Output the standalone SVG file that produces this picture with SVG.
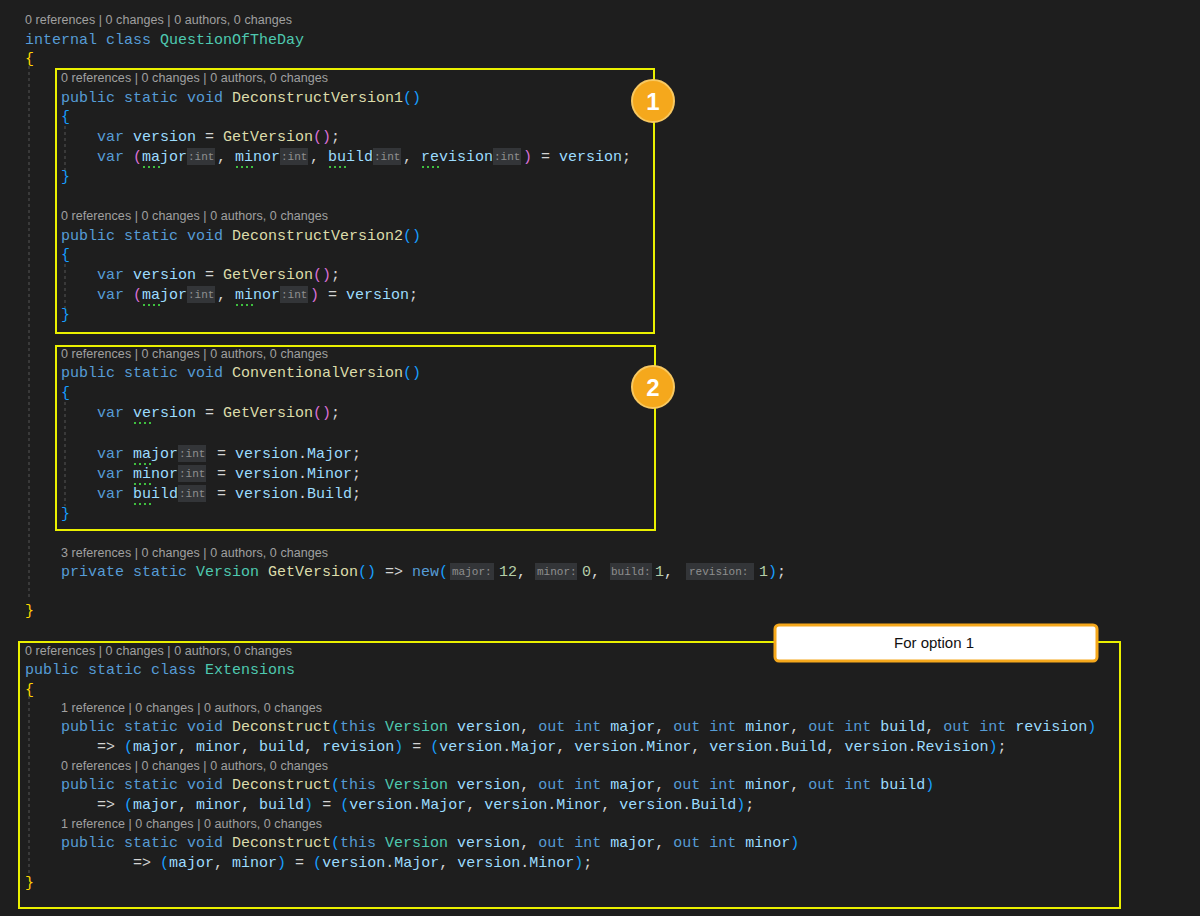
<svg xmlns="http://www.w3.org/2000/svg" width="1200" height="916" viewBox="0 0 1200 916">
<style>
text{font-family:"Liberation Mono","DejaVu Sans Mono",monospace;font-size:15px;fill:#d4d4d4;white-space:pre}
.lens{font-family:"Liberation Sans",Arial,sans-serif;font-size:12.5px;fill:#a0a0a0}
.k{fill:#569cd6}.m{fill:#dcdcaa}.c{fill:#4ec9b0}.v{fill:#9cdcfe}.n{fill:#b5cea8}
.y{fill:#ffd700}.p{fill:#da70d6}.b{fill:#179fff}
.hb{fill:#333538}.ht{font-size:11px;fill:#8f8f8f}
.dot{stroke:#3fbf3f;stroke-width:2;stroke-dasharray:2 3}
.guide{stroke:#555;stroke-width:1;stroke-dasharray:3 3}
.box{fill:none;stroke:#eaf000;stroke-width:2}
</style>
<rect width="1200" height="916" fill="#1e1e1e"/>
<g id="guides">
<line class="guide" x1="29" y1="66" x2="29" y2="600"/>
<line class="guide" x1="65" y1="126" x2="65" y2="170"/>
<line class="guide" x1="65" y1="264" x2="65" y2="308"/>
<line class="guide" x1="65" y1="402" x2="65" y2="506"/>
<line class="guide" x1="29" y1="696" x2="29" y2="876"/>
</g>
<g id="class1">
<text class="lens" x="25" y="24" textLength="267">0 references | 0 changes | 0 authors, 0 changes</text>
<text x="25" y="44"><tspan class="k">internal class </tspan><tspan class="c">QuestionOfTheDay</tspan></text>
<text x="25" y="63" class="y">{</text>
<text x="25" y="615" class="y">}</text>
</g>
<g id="method1">
<text class="lens" x="61" y="82" textLength="267">0 references | 0 changes | 0 authors, 0 changes</text>
<text x="61" y="102"><tspan class="k">public static void </tspan><tspan class="m">DeconstructVersion1</tspan><tspan class="b">()</tspan></text>
<text x="61" y="121" class="b">{</text>
<text x="97" y="141"><tspan class="k">var </tspan><tspan class="v">version</tspan> = <tspan class="m">GetVersion</tspan><tspan class="p">()</tspan>;</text>
<text x="97" y="161" class="k">var</text><text x="133" y="161" class="p">(</text>
<text x="142" y="161" class="v">major</text><rect class="hb" x="187" y="148" width="28" height="17"/><text class="ht" x="188" y="160">:int</text><text x="217" y="161">,</text>
<text x="235" y="161" class="v">minor</text><rect class="hb" x="280" y="148" width="28" height="17"/><text class="ht" x="281" y="160">:int</text><text x="310" y="161">,</text>
<text x="328" y="161" class="v">build</text><rect class="hb" x="373" y="148" width="28" height="17"/><text class="ht" x="374" y="160">:int</text><text x="403" y="161">,</text>
<text x="421" y="161" class="v">revision</text><rect class="hb" x="493" y="148" width="28" height="17"/><text class="ht" x="494" y="160">:int</text>
<text x="523" y="161"><tspan class="p">)</tspan> = <tspan class="v">version</tspan>;</text>
<line class="dot" x1="143" y1="167" x2="163" y2="167"/><line class="dot" x1="236" y1="167" x2="256" y2="167"/><line class="dot" x1="329" y1="167" x2="349" y2="167"/><line class="dot" x1="422" y1="167" x2="442" y2="167"/>
<text x="61" y="181" class="b">}</text>
</g>
<g id="method2">
<text class="lens" x="61" y="220" textLength="267">0 references | 0 changes | 0 authors, 0 changes</text>
<text x="61" y="240"><tspan class="k">public static void </tspan><tspan class="m">DeconstructVersion2</tspan><tspan class="b">()</tspan></text>
<text x="61" y="259" class="b">{</text>
<text x="97" y="279"><tspan class="k">var </tspan><tspan class="v">version</tspan> = <tspan class="m">GetVersion</tspan><tspan class="p">()</tspan>;</text>
<text x="97" y="299" class="k">var</text><text x="133" y="299" class="p">(</text>
<text x="142" y="299" class="v">major</text><rect class="hb" x="187" y="286" width="28" height="17"/><text class="ht" x="188" y="298">:int</text><text x="217" y="299">,</text>
<text x="235" y="299" class="v">minor</text><rect class="hb" x="280" y="286" width="28" height="17"/><text class="ht" x="281" y="298">:int</text>
<text x="310" y="299"><tspan class="p">)</tspan> = <tspan class="v">version</tspan>;</text>
<line class="dot" x1="143" y1="305" x2="163" y2="305"/><line class="dot" x1="236" y1="305" x2="256" y2="305"/>
<text x="61" y="319" class="b">}</text>
</g>
<g id="method3">
<text class="lens" x="61" y="358" textLength="267">0 references | 0 changes | 0 authors, 0 changes</text>
<text x="61" y="377"><tspan class="k">public static void </tspan><tspan class="m">ConventionalVersion</tspan><tspan class="b">()</tspan></text>
<text x="61" y="397" class="b">{</text>
<text x="97" y="417"><tspan class="k">var </tspan><tspan class="v">version</tspan> = <tspan class="m">GetVersion</tspan><tspan class="p">()</tspan>;</text>
<line class="dot" x1="134" y1="423" x2="154" y2="423"/>
<text x="97" y="458"><tspan class="k">var </tspan><tspan class="v">major</tspan></text><rect class="hb" x="178" y="445" width="28" height="17"/><text class="ht" x="179" y="457">:int</text><text x="208" y="458"> = <tspan class="v">version</tspan>.<tspan class="v">Major</tspan>;</text>
<text x="97" y="478"><tspan class="k">var </tspan><tspan class="v">minor</tspan></text><rect class="hb" x="178" y="465" width="28" height="17"/><text class="ht" x="179" y="477">:int</text><text x="208" y="478"> = <tspan class="v">version</tspan>.<tspan class="v">Minor</tspan>;</text>
<text x="97" y="498"><tspan class="k">var </tspan><tspan class="v">build</tspan></text><rect class="hb" x="178" y="485" width="28" height="17"/><text class="ht" x="179" y="497">:int</text><text x="208" y="498"> = <tspan class="v">version</tspan>.<tspan class="v">Build</tspan>;</text>
<line class="dot" x1="134" y1="464" x2="154" y2="464"/><line class="dot" x1="134" y1="484" x2="154" y2="484"/><line class="dot" x1="134" y1="504" x2="154" y2="504"/>
<text x="61" y="518" class="b">}</text>
</g>
<g id="getversion">
<text class="lens" x="61" y="557" textLength="267">3 references | 0 changes | 0 authors, 0 changes</text>
<text x="61" y="576"><tspan class="k">private static </tspan><tspan class="c">Version </tspan><tspan class="m">GetVersion</tspan><tspan class="b">()</tspan> =&gt; <tspan class="k">new</tspan><tspan class="b">(</tspan></text>
<rect class="hb" x="450" y="563" width="44" height="17"/><text class="ht" x="452" y="575">major:</text><text x="499" y="576"><tspan class="n">12</tspan>,</text>
<rect class="hb" x="535" y="563" width="42" height="17"/><text class="ht" x="537" y="575">minor:</text><text x="582" y="576"><tspan class="n">0</tspan>,</text>
<rect class="hb" x="610" y="563" width="42" height="17"/><text class="ht" x="611" y="575">build:</text><text x="655" y="576"><tspan class="n">1</tspan>,</text>
<rect class="hb" x="686" y="563" width="68" height="17"/><text class="ht" x="689" y="575">revision:</text><text x="759" y="576"><tspan class="n">1</tspan><tspan class="b">)</tspan>;</text>
</g>
<g id="extensions">
<text class="lens" x="25" y="655" textLength="267">0 references | 0 changes | 0 authors, 0 changes</text>
<text x="25" y="674"><tspan class="k">public static class </tspan><tspan class="c">Extensions</tspan></text>
<text x="25" y="694" class="y">{</text>
<text class="lens" x="61" y="712" textLength="261">1 reference | 0 changes | 0 authors, 0 changes</text>
<text x="61" y="731"><tspan class="k">public static void </tspan><tspan class="m">Deconstruct</tspan><tspan class="b">(</tspan><tspan class="k">this </tspan><tspan class="c">Version </tspan><tspan class="v">version</tspan>, <tspan class="k">out int </tspan><tspan class="v">major</tspan>, <tspan class="k">out int </tspan><tspan class="v">minor</tspan>, <tspan class="k">out int </tspan><tspan class="v">build</tspan>, <tspan class="k">out int </tspan><tspan class="v">revision</tspan><tspan class="b">)</tspan></text>
<text x="97" y="751">=&gt; <tspan class="b">(</tspan><tspan class="v">major</tspan>, <tspan class="v">minor</tspan>, <tspan class="v">build</tspan>, <tspan class="v">revision</tspan><tspan class="b">)</tspan> = <tspan class="b">(</tspan><tspan class="v">version</tspan>.<tspan class="v">Major</tspan>, <tspan class="v">version</tspan>.<tspan class="v">Minor</tspan>, <tspan class="v">version</tspan>.<tspan class="v">Build</tspan>, <tspan class="v">version</tspan>.<tspan class="v">Revision</tspan><tspan class="b">)</tspan>;</text>
<text class="lens" x="61" y="770" textLength="267">0 references | 0 changes | 0 authors, 0 changes</text>
<text x="61" y="789"><tspan class="k">public static void </tspan><tspan class="m">Deconstruct</tspan><tspan class="b">(</tspan><tspan class="k">this </tspan><tspan class="c">Version </tspan><tspan class="v">version</tspan>, <tspan class="k">out int </tspan><tspan class="v">major</tspan>, <tspan class="k">out int </tspan><tspan class="v">minor</tspan>, <tspan class="k">out int </tspan><tspan class="v">build</tspan><tspan class="b">)</tspan></text>
<text x="97" y="809">=&gt; <tspan class="b">(</tspan><tspan class="v">major</tspan>, <tspan class="v">minor</tspan>, <tspan class="v">build</tspan><tspan class="b">)</tspan> = <tspan class="b">(</tspan><tspan class="v">version</tspan>.<tspan class="v">Major</tspan>, <tspan class="v">version</tspan>.<tspan class="v">Minor</tspan>, <tspan class="v">version</tspan>.<tspan class="v">Build</tspan><tspan class="b">)</tspan>;</text>
<text class="lens" x="61" y="828" textLength="261">1 reference | 0 changes | 0 authors, 0 changes</text>
<text x="61" y="847"><tspan class="k">public static void </tspan><tspan class="m">Deconstruct</tspan><tspan class="b">(</tspan><tspan class="k">this </tspan><tspan class="c">Version </tspan><tspan class="v">version</tspan>, <tspan class="k">out int </tspan><tspan class="v">major</tspan>, <tspan class="k">out int </tspan><tspan class="v">minor</tspan><tspan class="b">)</tspan></text>
<text x="133" y="867">=&gt; <tspan class="b">(</tspan><tspan class="v">major</tspan>, <tspan class="v">minor</tspan><tspan class="b">)</tspan> = <tspan class="b">(</tspan><tspan class="v">version</tspan>.<tspan class="v">Major</tspan>, <tspan class="v">version</tspan>.<tspan class="v">Minor</tspan><tspan class="b">)</tspan>;</text>
<text x="25" y="887" class="y">}</text>
</g>
<g id="annotations">
<rect class="box" x="56" y="69" width="598" height="264"/>
<rect class="box" x="56" y="346" width="599" height="184"/>
<rect class="box" x="19" y="642" width="1101" height="266"/>
<g id="badge1"><circle cx="653" cy="101" r="21" fill="#f5a81c" stroke="#f8c860" stroke-width="2"/><text x="653" y="110" text-anchor="middle" style="font-family:'Liberation Sans',Arial,sans-serif;font-size:24px;font-weight:bold;fill:#fff">1</text></g>
<g id="badge2"><circle cx="653" cy="387" r="21" fill="#f5a81c" stroke="#f8c860" stroke-width="2"/><text x="653" y="396" text-anchor="middle" style="font-family:'Liberation Sans',Arial,sans-serif;font-size:24px;font-weight:bold;fill:#fff">2</text></g>
<g id="callout"><rect x="775" y="625" width="322" height="36" rx="4" fill="#fff" stroke="#f5a81c" stroke-width="3"/><text x="934" y="648" text-anchor="middle" style="font-family:'Liberation Sans',Arial,sans-serif;font-size:15px;fill:#111">For option 1</text></g>
</g>
</svg>
